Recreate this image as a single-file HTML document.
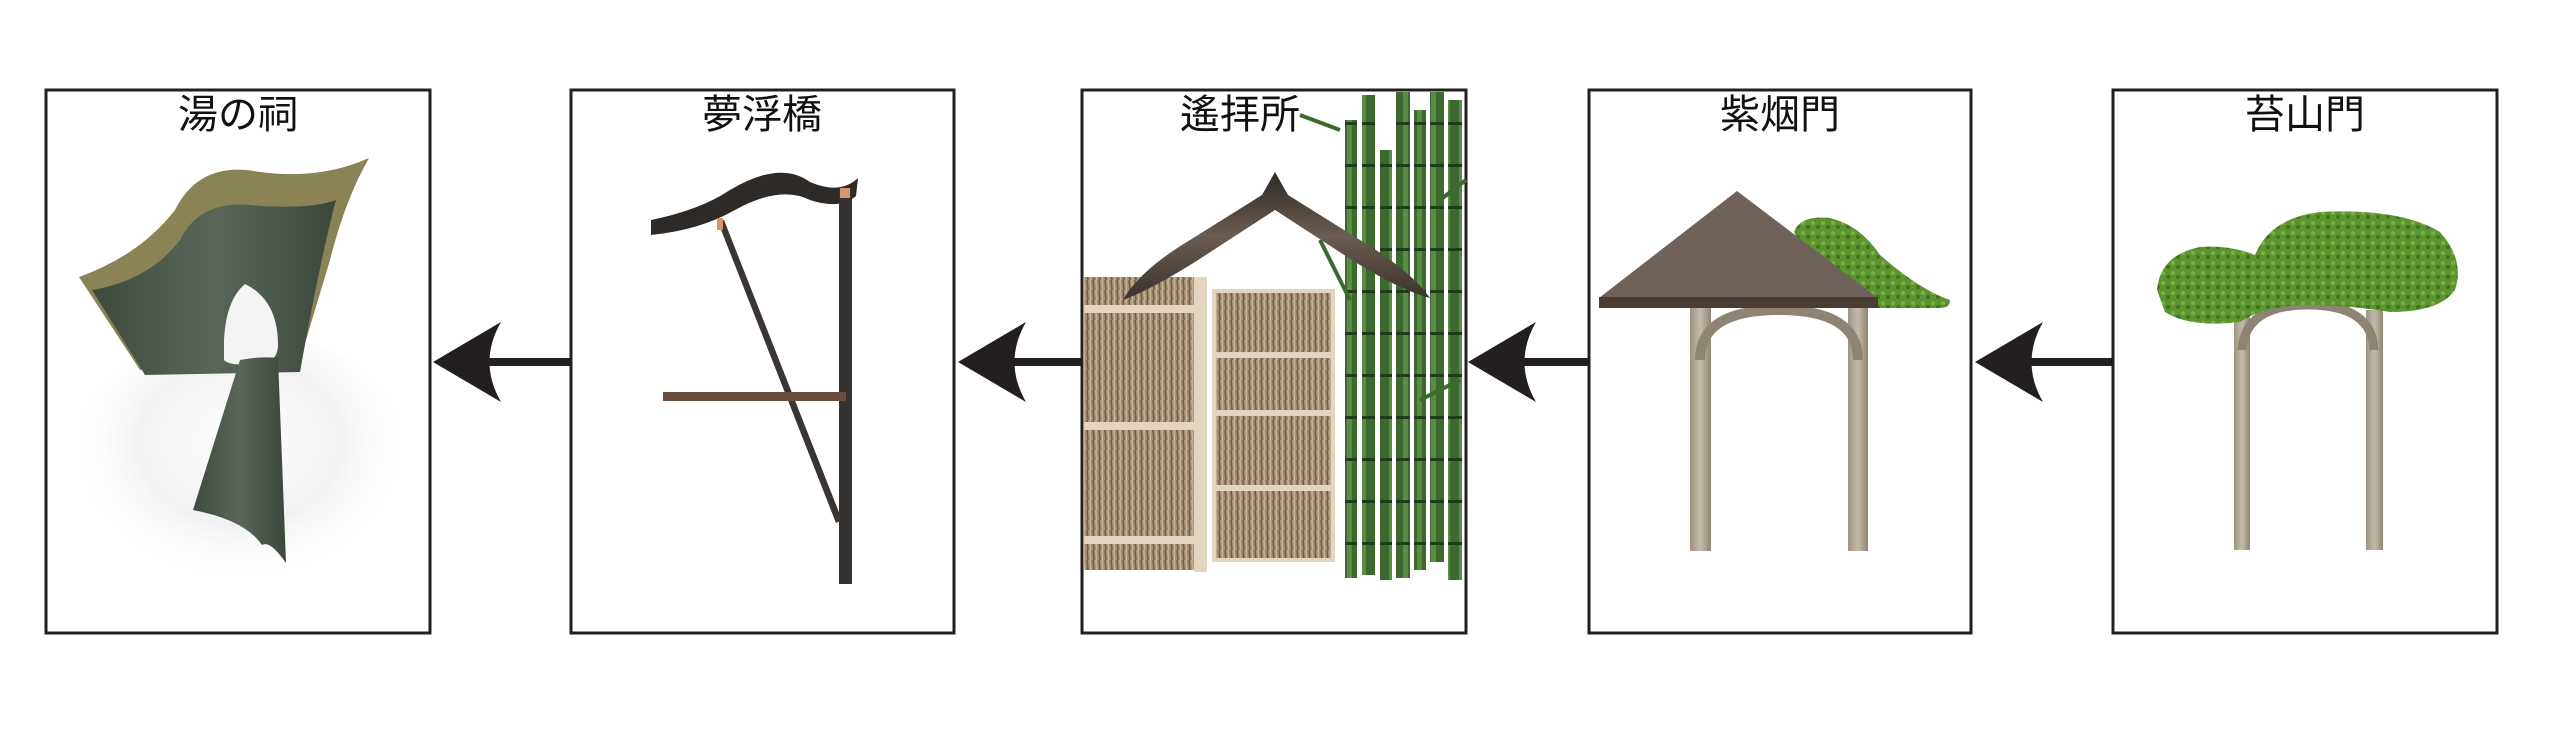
<!DOCTYPE html>
<html><head><meta charset="utf-8"><style>
html,body{margin:0;padding:0;background:#fff;}
svg{display:block}
text{font-family:"Liberation Sans","Noto Sans CJK JP",sans-serif;font-size:40px;fill:#111;text-anchor:middle}
</style></head><body>
<svg width="2552" height="729" viewBox="0 0 2552 729" xmlns="http://www.w3.org/2000/svg">
<defs>
<radialGradient id="sh" cx="0.5" cy="0.4" r="0.5"><stop offset="0" stop-color="#fff"/><stop offset="0.6" stop-color="#f2f2f2"/><stop offset="1" stop-color="#fff" stop-opacity="0"/></radialGradient>
<linearGradient id="gr" x1="0" x2="1"><stop offset="0" stop-color="#3f4a3e"/><stop offset="0.5" stop-color="#5a665a"/><stop offset="1" stop-color="#3c473b"/></linearGradient>
<linearGradient id="wd" x1="0" x2="1"><stop offset="0" stop-color="#9e9284"/><stop offset="0.5" stop-color="#c5bbab"/><stop offset="1" stop-color="#8f8474"/></linearGradient>
<linearGradient id="rf" x1="0" y1="0" x2="0" y2="1"><stop offset="0" stop-color="#2e2824"/><stop offset="0.5" stop-color="#6a5d52"/><stop offset="1" stop-color="#3a322c"/></linearGradient>
<pattern id="th" width="6" height="10" patternUnits="userSpaceOnUse"><rect width="6" height="10" fill="#a89378"/><line x1="1" y1="0" x2="2" y2="10" stroke="#6d5c45" stroke-width="1.5"/><line x1="4" y1="0" x2="4.5" y2="10" stroke="#cdbb9e" stroke-width="1"/></pattern>
<pattern id="ms" width="10" height="10" patternUnits="userSpaceOnUse"><rect width="10" height="10" fill="#5c9430"/><circle cx="3" cy="3" r="2" fill="#7db043"/><circle cx="8" cy="7" r="2" fill="#3f7320"/></pattern>
<pattern id="bb" width="14" height="42" patternUnits="userSpaceOnUse"><rect width="14" height="42" fill="#3c6a2e"/><rect x="3" width="5" height="42" fill="#5b8c45"/><rect y="38" width="14" height="3" fill="#1f3b1a"/></pattern>
</defs>
<g fill="#fff" stroke="#231f20" stroke-width="3">
<rect x="46" y="90" width="384" height="543"/>
<rect x="571" y="90" width="383" height="543"/>
<rect x="1082" y="90" width="384" height="543"/>
<rect x="1589" y="90" width="382" height="543"/>
<rect x="2113" y="90" width="384" height="543"/>
</g>
<g fill="#231f20">
<rect x="470" y="358" width="101" height="8"/><path d="M433 362 L501 322 Q478 362 501 402 Z"/>
<rect x="995" y="358" width="87" height="8"/><path d="M958 362 L1026 322 Q1003 362 1026 402 Z"/>
<rect x="1505" y="358" width="84" height="8"/><path d="M1468 362 L1536 322 Q1513 362 1536 402 Z"/>
<rect x="2012" y="358" width="101" height="8"/><path d="M1975 362 L2043 322 Q2020 362 2043 402 Z"/>
</g>
<!-- box1 -->
<ellipse cx="240" cy="470" rx="170" ry="140" fill="url(#sh)"/>
<path d="M79 277 Q140 255 175 210 Q200 160 260 172 Q320 180 369 158 Q345 200 330 260 L300 360 L140 370 Z" fill="#8a8356"/>
<path d="M92 290 Q150 280 180 240 Q200 200 250 205 Q310 210 336 200 Q320 260 300 372 L145 375 Z" fill="url(#gr)"/>
<path d="M245 284 Q226 300 224 340 L224 360 Q230 366 250 364 Q278 366 278 345 Q278 300 245 284 Z" fill="#f4f4f4"/>
<path d="M240 360 Q260 356 278 358 L286 563 Q270 540 262 545 Q245 520 193 510 Z" fill="url(#gr)"/>
<text x="238" y="128">湯の祠</text>
<!-- box2 -->
<text x="762" y="128">夢浮橋</text>
<path d="M651 220 Q700 210 730 190 Q780 160 810 182 Q840 195 858 178 L856 196 Q840 210 810 200 Q780 185 735 210 Q700 230 651 235 Z" fill="#2e2a27"/>
<rect x="839" y="188" width="13" height="396" fill="#34312f"/>
<rect x="840" y="188" width="10" height="10" fill="#d8946b"/>
<path d="M718 222 L724 220 L842 520 L836 523 Z" fill="#3a3532"/>
<rect x="717" y="218" width="6" height="12" fill="#d8946b"/>
<rect x="663" y="392" width="183" height="9" fill="#6b4e3c"/>
<!-- box3 -->
<text x="1240" y="128">遙拝所</text>
<g fill="url(#bb)">
<rect x="1345" y="120" width="12" height="458"/><rect x="1362" y="95" width="13" height="480"/>
<rect x="1380" y="150" width="12" height="430"/><rect x="1396" y="92" width="14" height="486"/>
<rect x="1414" y="110" width="12" height="460"/><rect x="1430" y="92" width="14" height="470"/>
<rect x="1448" y="100" width="14" height="480"/>
</g>
<path d="M1340 130 L1300 115 M1350 300 L1320 240 M1440 200 L1466 180 M1420 400 L1460 380" stroke="#3c6a2e" stroke-width="4"/>
<rect x="1084" y="277" width="110" height="293" fill="url(#th)"/>
<g fill="#e2d6c0"><rect x="1084" y="305" width="112" height="8"/><rect x="1084" y="422" width="112" height="8"/><rect x="1084" y="536" width="112" height="8"/><rect x="1194" y="277" width="13" height="295"/></g>
<rect x="1214" y="291" width="119" height="269" fill="url(#th)" stroke="#e2d6c0" stroke-width="4"/>
<g fill="#e2d6c0"><rect x="1214" y="352" width="119" height="6"/><rect x="1214" y="410" width="119" height="6"/><rect x="1214" y="485" width="119" height="6"/></g>
<path d="M1123 300 Q1140 270 1190 240 L1262 195 L1275 172 L1288 195 L1360 240 Q1410 270 1430 298 Q1400 290 1355 262 L1275 210 L1195 262 Q1150 290 1123 300 Z" fill="url(#rf)"/>
<!-- box4 -->
<text x="1780" y="128">紫烟門</text>
<rect x="1690" y="308" width="21" height="243" fill="url(#wd)"/>
<rect x="1848" y="308" width="20" height="243" fill="url(#wd)"/>
<path d="M1700 360 Q1700 310 1779 310 Q1858 310 1858 360" fill="none" stroke="#8f8474" stroke-width="10"/>
<path d="M1794 232 Q1800 215 1830 218 Q1860 225 1880 255 Q1920 290 1950 300 Q1950 308 1940 308 L1830 308 Z" fill="url(#ms)"/>
<path d="M1737 191 L1878 298 L1599 298 Z" fill="#6e625a"/>
<rect x="1599" y="297" width="279" height="11" fill="#4a3b33"/>
<!-- box5 -->
<text x="2305" y="128">苔山門</text>
<rect x="2234" y="310" width="16" height="240" fill="url(#wd)"/>
<rect x="2366" y="310" width="17" height="240" fill="url(#wd)"/>
<path d="M2242 350 Q2245 305 2308 305 Q2372 305 2374 350" fill="none" stroke="#8f8474" stroke-width="9"/>
<path d="M2157 290 Q2160 255 2200 247 Q2230 245 2255 255 Q2270 218 2320 212 Q2400 208 2440 232 Q2465 260 2455 290 Q2440 312 2390 312 Q2340 304 2300 305 Q2260 308 2240 322 Q2190 328 2165 312 Z" fill="url(#ms)"/>
</svg>
</body></html>
